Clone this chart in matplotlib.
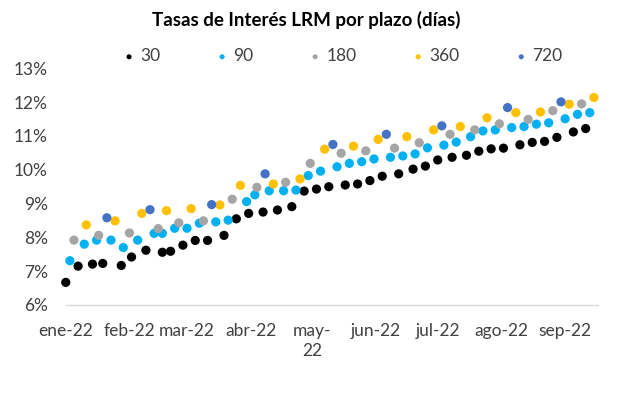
import matplotlib
matplotlib.use("Agg")
import matplotlib.pyplot as plt
import numpy as np

plt.rcParams['font.family'] = ['Lato', 'DejaVu Sans']

# plazo 30 dias
dates_30 = ["2022-01-01", "2022-01-07", "2022-01-14", "2022-01-19", "2022-01-28",
            "2022-02-02", "2022-02-09", "2022-02-17", "2022-02-21", "2022-02-27",
            "2022-03-05", "2022-03-11", "2022-03-19", "2022-03-25", "2022-03-31",
            "2022-04-07", "2022-04-14", "2022-04-21", "2022-04-27", "2022-05-03",
            "2022-05-09", "2022-05-17", "2022-05-23", "2022-05-29", "2022-06-04",
            "2022-06-12", "2022-06-19", "2022-06-25", "2022-07-01", "2022-07-08",
            "2022-07-15", "2022-07-21", "2022-07-27", "2022-08-02", "2022-08-10",
            "2022-08-16", "2022-08-22", "2022-08-28", "2022-09-05", "2022-09-11"]
rates_30 = [6.67, 7.15, 7.21, 7.23, 7.17, 7.42, 7.62, 7.56, 7.59, 7.77,
            7.91, 7.91, 8.06, 8.55, 8.71, 8.75, 8.81, 8.91, 9.37, 9.43,
            9.50, 9.55, 9.58, 9.68, 9.81, 9.88, 10.02, 10.11, 10.29, 10.37,
            10.43, 10.55, 10.62, 10.64, 10.74, 10.81, 10.84, 10.96, 11.12, 11.22]

# plazo 90 dias
dates_90 = ["2022-01-03", "2022-01-10", "2022-01-16", "2022-01-23", "2022-01-29",
            "2022-02-05", "2022-02-13", "2022-02-17", "2022-02-23", "2022-03-01",
            "2022-03-07", "2022-03-15", "2022-03-21", "2022-03-30", "2022-04-03",
            "2022-04-10", "2022-04-17", "2022-04-23", "2022-04-29", "2022-05-05",
            "2022-05-13", "2022-05-19", "2022-05-25", "2022-05-31", "2022-06-08",
            "2022-06-14", "2022-06-20", "2022-06-26", "2022-07-04", "2022-07-10",
            "2022-07-17", "2022-07-23", "2022-07-29", "2022-08-06", "2022-08-12",
            "2022-08-18", "2022-08-24", "2022-09-01", "2022-09-07", "2022-09-13"]
rates_90 = [7.31, 7.80, 7.92, 7.92, 7.70, 7.92, 8.12, 8.12, 8.27, 8.27,
            8.42, 8.46, 8.51, 9.06, 9.26, 9.38, 9.38, 9.40, 9.83, 9.96,
            10.09, 10.19, 10.24, 10.32, 10.37, 10.41, 10.47, 10.65, 10.73, 10.82,
            10.98, 11.15, 11.18, 11.25, 11.28, 11.35, 11.39, 11.51, 11.64, 11.69]

# plazo 180 dias
dates_180 = ["2022-01-05", "2022-01-17", "2022-02-01", "2022-02-15", "2022-02-25",
             "2022-03-09", "2022-03-23", "2022-04-04", "2022-04-18", "2022-04-30",
             "2022-05-15", "2022-05-27", "2022-06-10", "2022-06-22", "2022-07-07",
             "2022-07-19", "2022-07-31", "2022-08-14", "2022-08-26", "2022-09-09"]
rates_180 = [7.92, 8.06, 8.13, 8.26, 8.43, 8.49, 9.13, 9.48, 9.63, 10.19,
             10.49, 10.56, 10.64, 10.80, 11.05, 11.18, 11.36, 11.49, 11.75, 11.95]

# plazo 360 dias
dates_360 = ["2022-01-11", "2022-01-25", "2022-02-07", "2022-02-19", "2022-03-03",
             "2022-03-17", "2022-03-27", "2022-04-12", "2022-04-25", "2022-05-07",
             "2022-05-21", "2022-06-02", "2022-06-16", "2022-06-29", "2022-07-12",
             "2022-07-25", "2022-08-08", "2022-08-20", "2022-09-03", "2022-09-15"]
rates_360 = [8.37, 8.49, 8.71, 8.79, 8.85, 8.96, 9.54, 9.58, 9.73, 10.61,
             10.70, 10.90, 10.98, 11.18, 11.28, 11.54, 11.69, 11.71, 11.94, 12.14]

# plazo 720 dias
dates_720 = ["2022-01-21", "2022-02-11", "2022-03-13", "2022-04-08", "2022-05-11",
             "2022-06-06", "2022-07-03", "2022-08-04", "2022-08-30"]
rates_720 = [8.58, 8.82, 8.97, 9.88, 10.75, 11.05, 11.30, 11.84, 12.01]

month_ticks = ["2022-01-01", "2022-02-01", "2022-03-01", "2022-04-01", "2022-05-01",
               "2022-06-01", "2022-07-01", "2022-08-01", "2022-09-01"]
month_labels = ["ene-22", "feb-22", "mar-22", "abr-22", "may-\n22",
                "jun-22", "jul-22", "ago-22", "sep-22"]

series = [
    ("30", dates_30, rates_30, "#000000"),
    ("90", dates_90, rates_90, "#00B0F0"),
    ("180", dates_180, rates_180, "#A5A5A5"),
    ("360", dates_360, rates_360, "#FFC000"),
    ("720", dates_720, rates_720, "#4472C4"),
]

fig = plt.figure(figsize=(6.17, 3.94), dpi=100)
ax = fig.add_axes([0.1066, 0.2259, 0.8626, 0.6005])

for name, d, r, col in series:
    ax.scatter(np.array(d, dtype="datetime64[D]"), r, s=44, color=col,
               edgecolors="none", label=name, clip_on=False, zorder=3)

ax.set_xlim(np.datetime64("2022-01-01"), np.datetime64("2022-09-17"))
ax.set_ylim(6, 13)
ax.set_yticks(range(6, 14))
ax.set_yticklabels([f"{v}%" for v in range(6, 14)])
ax.set_xticks(np.array(month_ticks, dtype="datetime64[D]"))
ax.set_xticklabels(month_labels, linespacing=1.3, va="top")

for s in ["top", "right", "left"]:
    ax.spines[s].set_visible(False)
ax.spines["bottom"].set_color("#D9D9D9")
ax.spines["bottom"].set_linewidth(1.0)
ax.tick_params(axis="both", length=0, labelsize=12.5, colors="#404040")
ax.tick_params(axis="y", pad=13)
ax.tick_params(axis="x", pad=13)

fig.suptitle("Tasas de Interés LRM por plazo (días)", x=0.497, y=0.972,
             fontsize=13.5, fontweight="bold", color="#000000")

fig.legend(loc="center", bbox_to_anchor=(0.557, 0.857), ncol=5, frameon=False,
           fontsize=12.5, markerscale=0.55, handlelength=0.5, handletextpad=0.4,
           columnspacing=3.3, labelcolor="#404040")

fig.savefig("out.png", dpi=100)
